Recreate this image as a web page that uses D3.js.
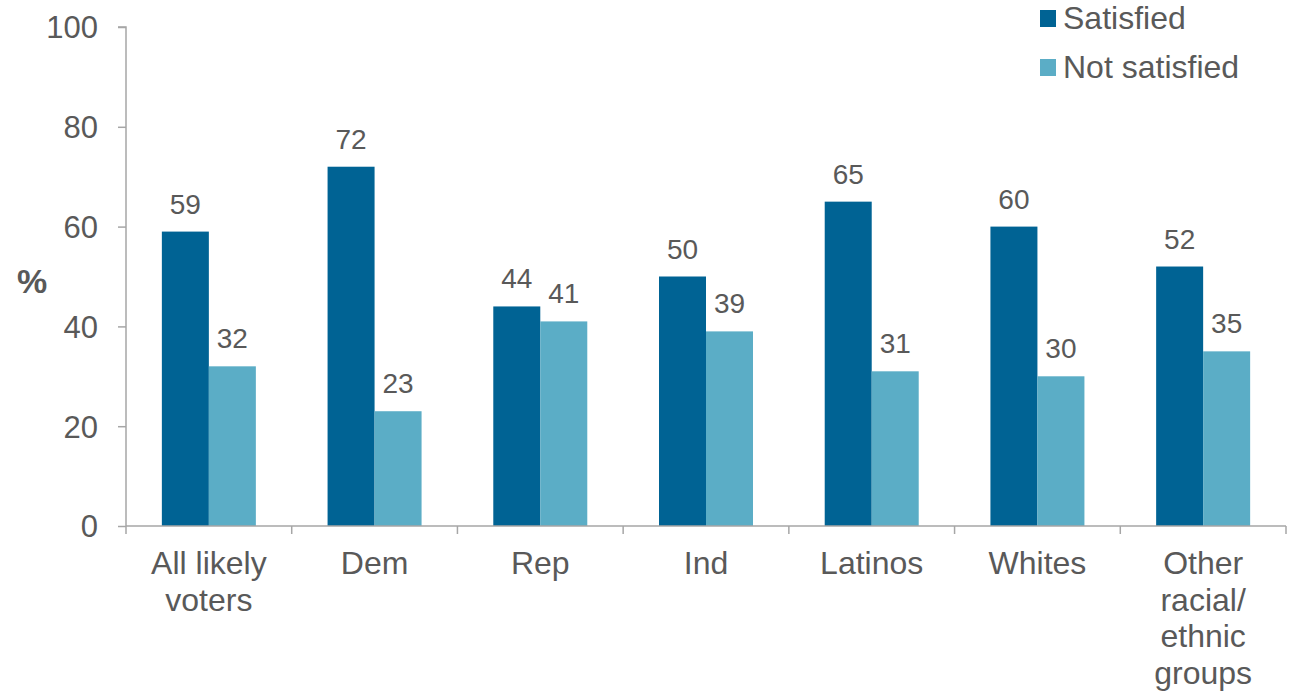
<!DOCTYPE html>
<html><head><meta charset="utf-8">
<script src="https://cdn.jsdelivr.net/npm/d3@7"></script>
<style>body{margin:0;background:#fff}svg{display:block}text{font-family:"Liberation Sans",Arial,sans-serif}</style>
</head><body><svg id="c" width="1290" height="692"></svg>
<script>
const categories = [["All likely","voters"],["Dem"],["Rep"],["Ind"],["Latinos"],["Whites"],["Other","racial/","ethnic","groups"]];
const satisfied = [59,72,44,50,65,60,52];
const notSatisfied = [32,23,41,39,31,30,35];
const yTicks = [0,20,40,60,80,100];
const seriesNames = ["Satisfied","Not satisfied"];
const colors = ["#006394","#5BADC6"];

(function(){
const svg = d3.select("#c");
const pLeft=126, pRight=1286, pTop=27, pBottom=526;
const ids = categories.map((d,i)=>i);
const x = d3.scaleBand().domain(ids).range([pLeft,pRight]);
const y = d3.scaleLinear().domain([0,100]).range([pBottom,pTop]);
const bw = 47;
const textCol = "#595959";

// y axis
const ya = svg.append("g").attr("transform",`translate(${pLeft},0)`)
  .call(d3.axisLeft(y).tickValues(yTicks).tickSize(8).tickPadding(20));
ya.select(".domain").attr("stroke","#A6A6A6").attr("stroke-width",1.5).attr("d",`M-8,${pTop}H0V${pBottom}`);
ya.selectAll(".tick line").attr("stroke","#A6A6A6").attr("stroke-width",1.5);
ya.selectAll(".tick text").attr("fill",textCol).style("font-size","31px").attr("dy","0.35em");

// bars
const series=[satisfied,notSatisfied];
series.forEach((s,si)=>{
  svg.append("g").selectAll("rect").data(s).join("rect")
    .attr("x",(d,i)=>x(i)+x.bandwidth()/2-bw+si*bw)
    .attr("width",bw)
    .attr("y",d=>y(d)).attr("height",d=>pBottom-y(d))
    .attr("fill",colors[si]);
  svg.append("g").selectAll("text").data(s).join("text")
    .attr("x",(d,i)=>x(i)+x.bandwidth()/2-bw/2+si*bw)
    .attr("y",d=>y(d)-18)
    .attr("text-anchor","middle").attr("fill",textCol).style("font-size","28px")
    .text(d=>d);
});

// x axis
const xa = svg.append("g").attr("transform",`translate(0,${pBottom})`);
xa.append("line").attr("x1",pLeft).attr("x2",pRight).attr("y1",0).attr("y2",0).attr("stroke","#A6A6A6").attr("stroke-width",1.5);
const bounds = ids.map(i=>x(i)).concat([pRight]);
xa.selectAll(".tk").data(bounds).join("line").attr("class","tk")
  .attr("x1",d=>d).attr("x2",d=>d).attr("y1",0).attr("y2",8).attr("stroke","#A6A6A6").attr("stroke-width",1.5);
xa.selectAll(".lab").data(categories).join("text").attr("class","lab")
  .attr("text-anchor","middle").attr("fill",textCol).style("font-size","32px")
  .each(function(lines,i){
    const t=d3.select(this);
    lines.forEach((l,j)=>t.append("tspan").attr("x",x(i)+x.bandwidth()/2).attr("y",48+j*36.5).text(l));
  });

// % label
svg.append("text").attr("x",32).attr("y",293).attr("text-anchor","middle")
  .attr("fill",textCol).style("font-size","34px").style("font-weight","bold").text("%");

// legend
const lg = svg.append("g");
seriesNames.forEach((n,i)=>{
  lg.append("rect").attr("x",1040).attr("y",10+i*49).attr("width",16).attr("height",17).attr("fill",colors[i]);
  lg.append("text").attr("x",1063).attr("y",29+i*49).attr("fill",textCol).style("font-size","32px").text(n);
});
})();
</script></body></html>
